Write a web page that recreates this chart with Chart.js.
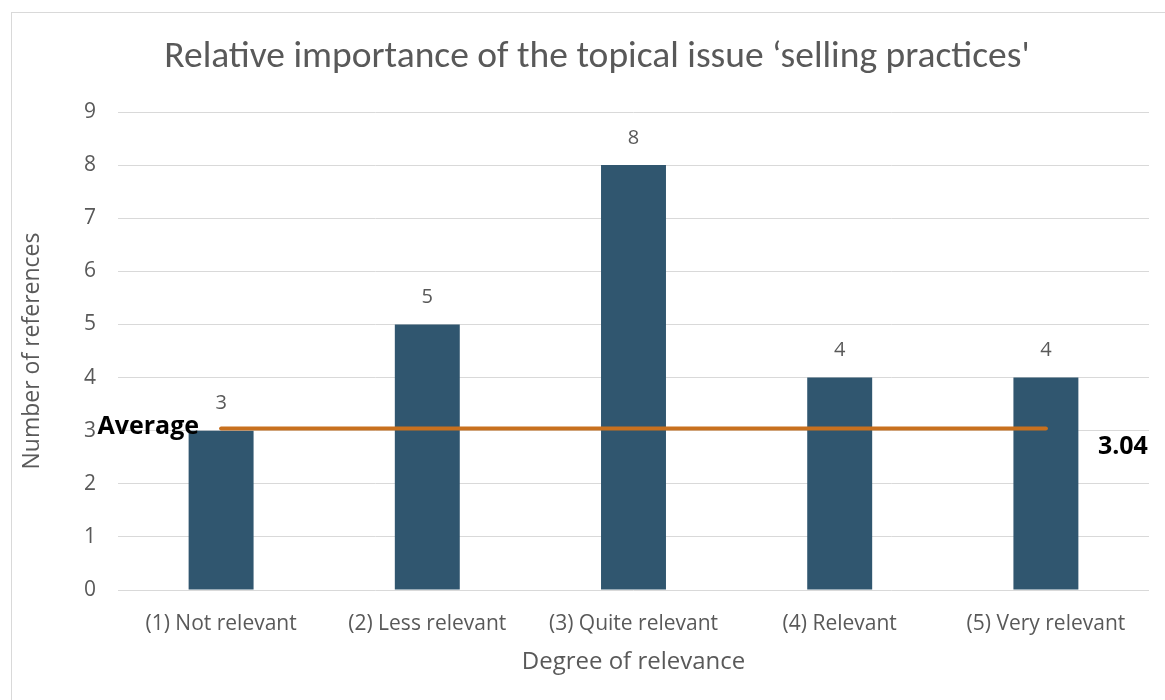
<!DOCTYPE html>
<html>
<head>
<meta charset="utf-8">
<script src="https://cdn.jsdelivr.net/npm/chart.js@4/dist/chart.umd.min.js"></script>
<style>
  html, body { margin: 0; padding: 0; background: #fff; }
  #wrap { width: 1165px; height: 700px; position: relative; }
</style>
</head>
<body>
<div id="wrap"><canvas id="chart" width="1165" height="700"></canvas></div>
<script>
"use strict";
// categories and values
var categories = ['(1) Not relevant', '(2) Less relevant', '(3) Quite relevant', '(4) Relevant', '(5) Very relevant'];
var references = [3, 5, 8, 4, 4];
var averageValue = 3.04;
var averageLine = [averageValue, averageValue, averageValue, averageValue, averageValue];
var yTicks = [0, 1, 2, 3, 4, 5, 6, 7, 8, 9];
var chartTitle = 'Relative importance of the topical issue \u2018selling practices\'';

var grey = '#595959';
var font = "'Open Sans', sans-serif";
var titleFont = "Carlito, Calibri, 'Open Sans', sans-serif";

// frame, title, value labels over the bars, average labels
var extras = {
    id: 'extras',
    beforeDraw: function (chart) {
        var c = chart.ctx;
        c.save();
        c.strokeStyle = '#d9d9d9';
        c.lineWidth = 1;
        c.strokeRect(11.5, 12.5, 1200, 720);
        c.fillStyle = grey;
        c.font = '37.5px ' + titleFont;
        c.textAlign = 'center';
        c.textBaseline = 'middle';
        c.fillText(chartTitle, 597, 58);
        c.restore();
    },
    afterDatasetsDraw: function (chart) {
        var c = chart.ctx;
        c.save();
        var bars = chart.getDatasetMeta(0).data;
        c.fillStyle = grey;
        c.font = '20px ' + font;
        c.textAlign = 'center';
        c.textBaseline = 'middle';
        bars.forEach(function (bar, i) {
            c.fillText(String(references[i]), bar.x, bar.y - 27);
        });
        var pts = chart.getDatasetMeta(1).data;
        var first = pts[0], last = pts[pts.length - 1];
        c.fillStyle = '#000';
        c.font = 'bold 25px ' + font;
        c.textAlign = 'right';
        c.fillText('Average', first.x - 22, first.y - 2);
        c.textAlign = 'left';
        c.fillText(averageValue.toFixed(2), last.x + 52, last.y + 18);
        c.restore();
    }
};

const ctx = document.getElementById('chart').getContext('2d');
const myChart = new Chart(ctx, {
    type: 'bar',
    data: {
        labels: categories,
        datasets: [{
            label: 'Number of references',
            data: references,
            backgroundColor: '#30566F',
            barPercentage: 0.315,
            categoryPercentage: 1,
            order: 1
        }, {
            type: 'line',
            label: 'Average',
            data: averageLine,
            borderColor: '#C8701E',
            borderWidth: 4,
            borderCapStyle: 'round',
            pointRadius: 0,
            fill: false,
            order: 0
        }]
    },
    options: {
        responsive: false,
        animation: false,
        layout: { padding: { left: 10, right: 16, top: 112, bottom: 0 } },
        plugins: {
            legend: { display: false },
            tooltip: { enabled: false },
            title: { display: false }
        },
        scales: {
            x: {
                grid: { display: false, drawTicks: false },
                border: { display: false },
                ticks: { color: grey, font: { family: font, size: 21 }, padding: 21, maxRotation: 0 },
                title: {
                    display: true,
                    text: 'Degree of relevance',
                    color: grey,
                    font: { family: font, size: 24 },
                    padding: { top: 4, bottom: 23 }
                },
                afterFit: function (s) { s.height = 110; }
            },
            y: {
                min: 0,
                max: 9,
                grid: { color: '#d9d9d9', drawTicks: false },
                border: { display: false },
                afterBuildTicks: function (s) { s.ticks = yTicks.map(function (v) { return { value: v }; }); },
                ticks: { color: grey, font: { family: font, size: 21 }, padding: 22 },
                title: {
                    display: true,
                    text: 'Number of references',
                    color: grey,
                    font: { family: font, size: 23 },
                    padding: { top: 9, bottom: 0 }
                },
                afterFit: function (s) { s.width = 108; }
            }
        }
    },
    plugins: [extras]
});
</script>
</body>
</html>
